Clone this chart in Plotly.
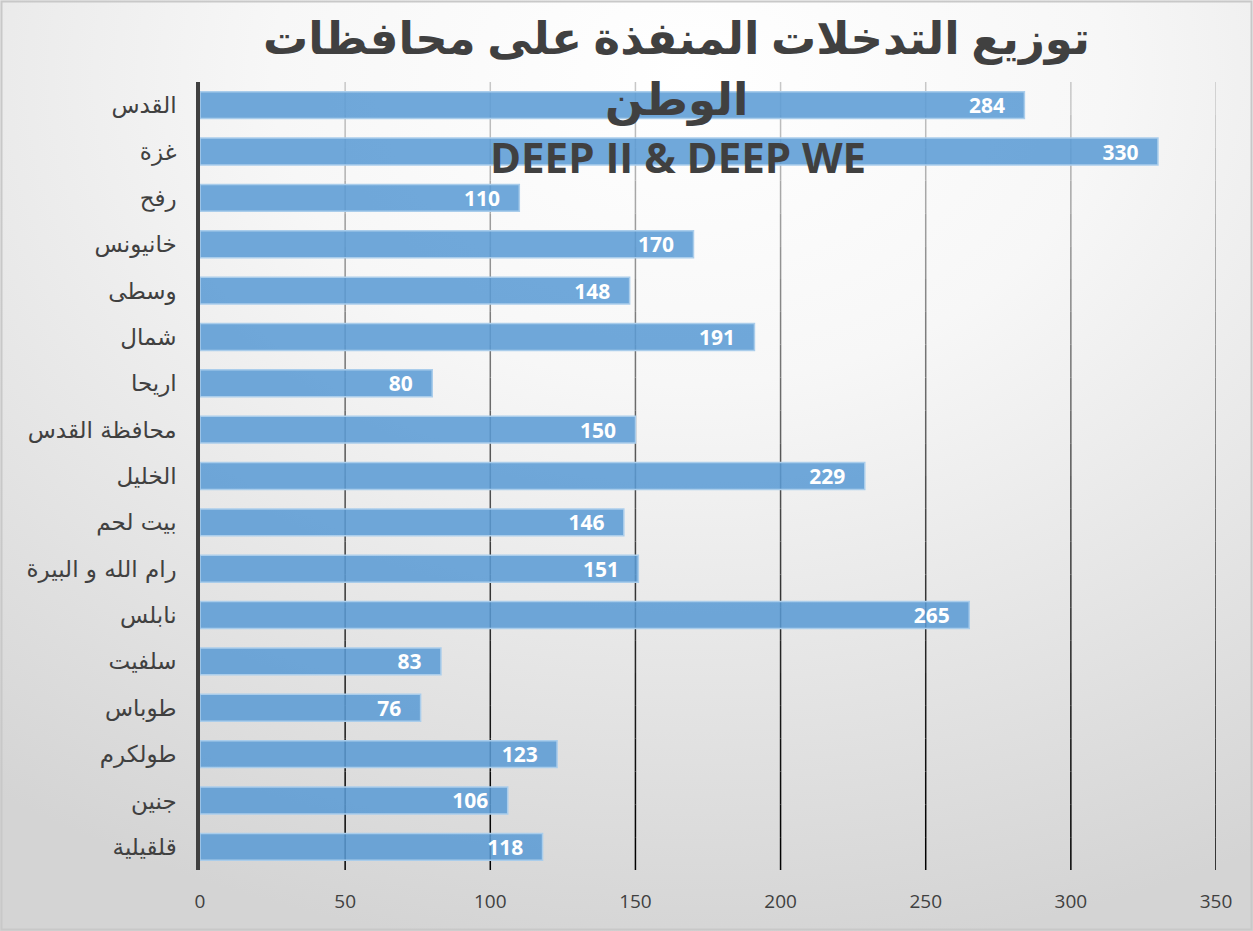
import base64
import plotly.graph_objects as go

categories = ["القدس", "غزة", "رفح", "خانيونس", "وسطى", "شمال", "اريحا", "محافظة القدس",
              "الخليل", "بيت لحم", "رام الله و البيرة", "نابلس", "سلفيت", "طوباس", "طولكرم",
              "جنين", "قلقيلية"]
values = [284, 330, 110, 170, 148, 191, 80, 150, 229, 146, 151, 265, 83, 76, 123, 106, 118]
x_ticks = [0, 50, 100, 150, 200, 250, 300, 350]
title_lines = ["توزيع التدخلات المنفذة على محافظات", "الوطن", "DEEP II & DEEP WE"]

W, H = 1253, 931
ML, MR, MT, MB = 200, 37, 82, 61
PW, PH = W - ML - MR, H - MT - MB

svg = f'''<svg xmlns="http://www.w3.org/2000/svg" width="{W}" height="{H}" viewBox="0 0 {W} {H}">
<defs><radialGradient id="g" cx="0.55" cy="0.08" r="0.95" gradientUnits="objectBoundingBox">
<stop offset="0" stop-color="#ffffff"/><stop offset="0.35" stop-color="#f7f7f7"/><stop offset="1" stop-color="#d4d4d4"/></radialGradient></defs>
<rect x="0" y="0" width="{W}" height="{H}" fill="url(#g)"/>
<rect x="1.5" y="1.5" width="{W-3}" height="{H-3}" fill="none" stroke="#c8c8c8" stroke-width="2"/>
</svg>'''
src = "data:image/svg+xml;base64," + base64.b64encode(svg.encode()).decode()

fig = go.Figure()
fig.add_trace(go.Bar(
    y=categories, x=values, orientation="h",
    marker=dict(color="rgba(91,155,213,0.87)", line=dict(color="rgba(170,205,235,1)", width=1.5)),
    texttemplate="<b>%{x}</b>\u00a0\u00a0\u00a0", textposition="inside", insidetextanchor="end",
    textfont=dict(color="white", size=21, family="Open Sans"),
    constraintext="none", cliponaxis=False, hoverinfo="skip",
))

# gradient grid lines (light at top, dark at bottom)
nseg = 24
for t in x_ticks[1:]:
    for i in range(nseg):
        f = (i + 0.5) / nseg
        c = int(205 * (1 - f) ** 1.3)
        fig.add_shape(type="line", xref="x", yref="paper", x0=t, x1=t,
                      y0=1 - i / nseg, y1=1 - (i + 1) / nseg,
                      line=dict(color=f"rgb({c},{c},{c})", width=1.5), layer="below")

fig.add_layout_image(dict(source=src, xref="paper", yref="paper",
                          x=-ML / PW, y=1 + MT / PH, sizex=W / PW, sizey=H / PH,
                          xanchor="left", yanchor="top", sizing="stretch", layer="below"))

title_font = dict(family="Open Sans, DejaVu Sans", size=45, color="#404040")
fig.add_annotation(text="<b>" + title_lines[0] + "</b>", xref="paper", yref="paper",
                   x=(676 - ML) / PW, y=1 + (MT - 37) / PH, showarrow=False, font=title_font,
                   xanchor="center", yanchor="middle")
fig.add_annotation(text="<b>" + title_lines[1] + "</b>", xref="paper", yref="paper",
                   x=(676 - ML) / PW, y=1 + (MT - 97) / PH, showarrow=False, font=title_font,
                   xanchor="center", yanchor="middle")
fig.add_annotation(text="<b>" + title_lines[2] + "</b>", xref="paper", yref="paper",
                   x=(678 - ML) / PW, y=1 + (MT - 156) / PH, showarrow=False,
                   font=dict(family="Open Sans", size=42, color="#404040"),
                   xanchor="center", yanchor="middle")

fig.update_layout(
    width=W, height=H,
    margin=dict(l=ML, r=MR, t=MT, b=MB),
    paper_bgcolor="white", plot_bgcolor="rgba(0,0,0,0)",
    bargap=0.42, showlegend=False,
    xaxis=dict(range=[0, 350], tickvals=x_ticks, showgrid=False, zeroline=False,
               tickfont=dict(family="Open Sans", size=19, color="#404040"),
               ticks="", ticklabelstandoff=18, fixedrange=True),
    yaxis=dict(autorange="reversed", showgrid=False, showline=True, linecolor="#404040",
               linewidth=3.5, ticks="", ticklabelstandoff=15, fixedrange=True,
               tickfont=dict(family="DejaVu Sans", size=23, color="#404040")),
)

fig.write_html("out.html", config={"displayModeBar": False},
               post_script="document.body.style.margin='0';document.body.style.overflow='hidden';")
